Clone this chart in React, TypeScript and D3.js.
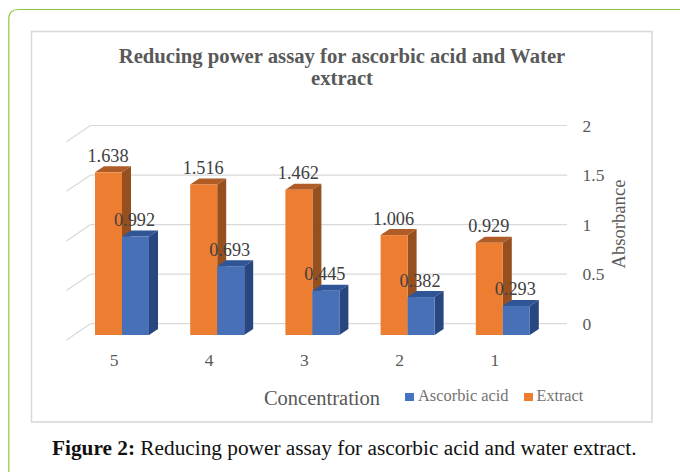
import React from "react";
import * as d3 from "d3";

const categories = ["5", "4", "3", "2", "1"];
const extractValues = [1.638, 1.516, 1.462, 1.006, 0.929];
const ascorbicValues = [0.992, 0.693, 0.445, 0.382, 0.293];
const extractLabels = ["1.638", "1.516", "1.462", "1.006", "0.929"];
const ascorbicLabels = ["0.992", "0.693", "0.445", "0.382", "0.293"];
const yTicks = [0, 0.5, 1, 1.5, 2];
const yTickLabels = ["0", "0.5", "1", "1.5", "2"];

const FONT = '"Liberation Serif", serif';
const ORANGE = ["#ed7d31", "#b05c26", "#96501f"];
const BLUE = ["#4770b7", "#2f5597", "#284680"];

const frontY = d3.scaleLinear().domain([0, 2]).range([335, 136.4]);
const backY = d3.scaleLinear().domain([0, 2]).range([323.7, 125.5]);
const xBand = d3.scaleBand<string>().domain(categories).range([81.5, 557.5]).paddingInner(0).paddingOuter(0);
const BAR_W = 27;
const DX = 9;
const DY = 6;

function Bar3D({ x, value, colors }: { x: number; value: number; colors: string[] }) {
  const top = frontY(value);
  const base = frontY(0);
  const path = d3.path();
  path.moveTo(x, top);
  path.lineTo(x + DX, top - DY);
  path.lineTo(x + BAR_W + DX, top - DY);
  path.lineTo(x + BAR_W, top);
  path.closePath();
  const side = d3.path();
  side.moveTo(x + BAR_W, top);
  side.lineTo(x + BAR_W + DX, top - DY);
  side.lineTo(x + BAR_W + DX, base - DY);
  side.lineTo(x + BAR_W, base);
  side.closePath();
  return (
    <g>
      <path d={path.toString()} fill={colors[1]} />
      <path d={side.toString()} fill={colors[2]} />
      <rect x={x} y={top} width={BAR_W} height={base - top} fill={colors[0]} />
    </g>
  );
}

export default function App() {
  const border = d3.path();
  border.moveTo(690, 9.5);
  border.lineTo(18.5, 9.5);
  border.quadraticCurveTo(8.8, 9.5, 8.8, 19);
  border.lineTo(8.8, 480);
  return (
    <svg
      width={680}
      height={472}
      style={{ position: "absolute", left: 0, top: 0, background: "#fff", fontFamily: FONT }}
    >
      <path d={border.toString()} fill="none" stroke="#8cc63f" strokeWidth={1.2} />
      <rect x={31.5} y={31.5} width={620.5} height={390.5} fill="#fff" stroke="#d9d9d9" strokeWidth={1.6} />
      <text x={342} y={63} textAnchor="middle" fontSize={20.7} fontWeight="bold" fill="#595959">
        Reducing power assay for ascorbic acid and Water
      </text>
      <text x={342} y={85} textAnchor="middle" fontSize={20.7} fontWeight="bold" fill="#595959">
        extract
      </text>

      {yTicks.map((t, i) => (
        <g key={t}>
          <line x1={90.5} x2={567} y1={backY(t)} y2={backY(t)} stroke="#d9d9d9" strokeWidth={1.2} />
          <line x1={66.5} x2={90.5} y1={backY(t) + 16.3} y2={backY(t)} stroke="#d9d9d9" strokeWidth={1.2} />
          <text x={582.5} y={backY(t) + 6} fontSize={17.5} fill="#595959">
            {yTickLabels[i]}
          </text>
        </g>
      ))}

      {categories.map((c, i) => {
        const x = xBand(c)! + 13.5;
        return (
          <g key={c}>
            <Bar3D x={x} value={extractValues[i]} colors={ORANGE} />
            <Bar3D x={x + BAR_W} value={ascorbicValues[i]} colors={BLUE} />
            <text x={x + 19} y={365.5} textAnchor="middle" fontSize={17.5} fill="#595959">
              {c}
            </text>
            <text x={x + 13} y={frontY(extractValues[i]) - 10.5} textAnchor="middle" fontSize={18.3} fill="#404040">
              {extractLabels[i]}
            </text>
            <text x={x + 39.5} y={frontY(ascorbicValues[i]) - 10.5} textAnchor="middle" fontSize={18.3} fill="#404040">
              {ascorbicLabels[i]}
            </text>
          </g>
        );
      })}

      <text
        transform="translate(625,224) rotate(-90)"
        textAnchor="middle"
        fontSize={18.6}
        fill="#595959"
      >
        Absorbance
      </text>
      <text x={322} y={405} textAnchor="middle" fontSize={20.5} fill="#595959">
        Concentration
      </text>
      <rect x={405} y={393} width={9} height={8} fill="#4472c4" />
      <text x={418} y={401} fontSize={16.4} fill="#737373">
        Ascorbic acid
      </text>
      <rect x={524} y={393} width={9} height={8} fill="#ed7d31" />
      <text x={536.5} y={401} fontSize={16.2} fill="#737373">
        Extract
      </text>
      <text x={52} y={455} fontSize={21.3} fill="#111">
        <tspan fontWeight="bold">Figure 2:</tspan> Reducing power assay for ascorbic acid and water extract.
      </text>
    </svg>
  );
}
